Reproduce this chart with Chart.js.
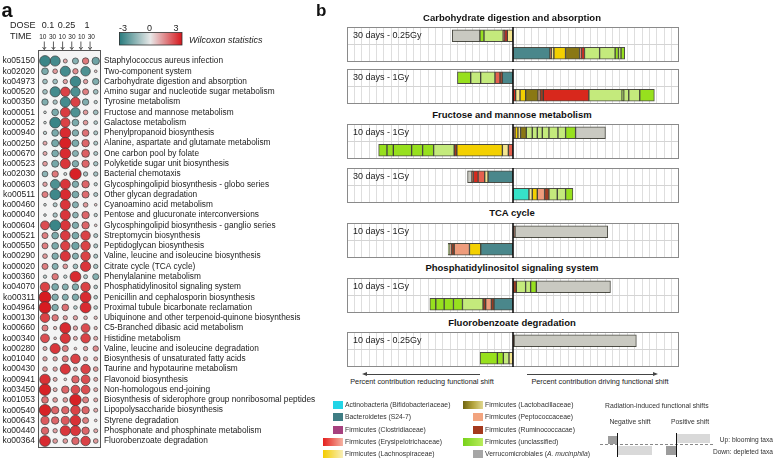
<!DOCTYPE html>
<html>
<head>
<meta charset="utf-8">
<script src="https://cdn.jsdelivr.net/npm/chart.js@4.4.1/dist/chart.umd.min.js"></script>
<style>
  body { margin: 0; background: #fff; font-family: "Liberation Sans", Arial, sans-serif; color: #222; }
  #fig { position: relative; width: 778px; height: 460px; overflow: hidden; }
  #fig canvas, #fig .txt, #fig .box { position: absolute; }
  .txt { white-space: nowrap; line-height: 1; }
</style>
</head>
<body>
<div id="fig">
  <canvas id="dots" width="340" height="460" style="left:0;top:0"></canvas>
</div>
<script>
document.addEventListener('DOMContentLoaded', function() {
    // ---------- panel a: KEGG pathways x dose/time ----------
    const koCodes = ['ko05150', 'ko02020', 'ko04973', 'ko00520', 'ko00350', 'ko00051', 'ko00052', 'ko00940',
        'ko00250', 'ko00670', 'ko00523', 'ko02030', 'ko00603', 'ko00511', 'ko00460', 'ko00040', 'ko00604',
        'ko00521', 'ko00550', 'ko00290', 'ko00020', 'ko00360', 'ko04070', 'ko00311', 'ko04964', 'ko00130',
        'ko00660', 'ko00340', 'ko00280', 'ko01040', 'ko00430', 'ko00941', 'ko03450', 'ko01053', 'ko00540',
        'ko00643', 'ko00440', 'ko00364'];
    const pathways = ['Staphylococcus aureus infection', 'Two-component system', 'Carbohydrate digestion and absorption',
        'Amino sugar and nucleotide sugar metabolism', 'Tyrosine metabolism', 'Fructose and mannose metabolism',
        'Galactose metabolism', 'Phenylpropanoid biosynthesis', 'Alanine, aspartate and glutamate metabolism',
        'One carbon pool by folate', 'Polyketide sugar unit biosynthesis', 'Bacterial chemotaxis',
        'Glycosphingolipid biosynthesis - globo series', 'Other glycan degradation', 'Cyanoamino acid metabolism',
        'Pentose and glucuronate interconversions', 'Glycosphingolipid biosynthesis - ganglio series',
        'Streptomycin biosynthesis', 'Peptidoglycan biosynthesis', 'Valine, leucine and isoleucine biosynthesis',
        'Citrate cycle (TCA cycle)', 'Phenylalanine metabolism', 'Phosphatidylinositol signaling system',
        'Penicillin and cephalosporin biosynthesis', 'Proximal tubule bicarbonate reclamation',
        'Ubiquinone and other terpenoid-quinone biosynthesis', 'C5-Branched dibasic acid metabolism',
        'Histidine metabolism', 'Valine, leucine and isoleucine degradation', 'Biosynthesis of unsaturated fatty acids',
        'Taurine and hypotaurine metabolism', 'Flavonoid biosynthesis', 'Non-homologous end-joining',
        'Biosynthesis of siderophore group nonribosomal peptides', 'Lipopolysaccharide biosynthesis',
        'Styrene degradation', 'Phosphonate and phosphinate metabolism', 'Fluorobenzoate degradation'];
    const doseLabels = ['0.1', '0.25', '1'];
    const timeLabels = ['10', '30', '10', '30', '10', '30'];
    const colorbarTicks = [-3, 0, 3];

    // Wilcoxon statistic, one array per dose/time column
    const wDose01Day10 = [-2.6, -1.4, -0.8, -0.8, -1.3, -0.2, -0.2, -0.4, 0.6, 0.6, 0.8, -1.1, 0.7, 1.2, -0.2, -0.2, 2.0, 1.2, 1.2,
        0.8, 1.2, -0.4, 2.2, 2.9, 2.9, 2.2, 1.2, 2.0, 0.6, 0.7, 0.8, 2.5, 2.8, 1.4, 2.8, 1.8, 1.6, 2.6];
    const wDose01Day30 = [-2.4, 0.8, -0.8, -2.4, -0.7, -1.4, -2.6, -1.4, -1.5, -1.4, -1.5, 1.3, -2.2, -2.5, -0.6, -0.7, -2.6, -1.4, -1.4,
        -1.3, -1.2, 1.3, -1.4, -1.3, -1.3, 1.3, 0.4, 0.2, 2.4, 0.7, 0.7, 0.6, 0.6, 0.8, 1.6, 1.6, 0.7, 0.8];
    const wDose025Day10 = [0.6, -2.4, 0.7, 2.2, -2.4, 2.3, 2.2, 2.6, 2.8, 2.6, 2.4, -0.3, 2.4, 2.6, 2.4, 2.4, 2.4, 2.3, 2.2,
        2.4, 0.8, -0.4, -1.2, -1.2, 1.4, 0.7, 2.6, 2.4, 1.2, 1.2, 2.4, 0.2, 1.6, 0.8, 1.6, 1.8, 2.4, 0.8];
    const wDose025Day30 = [-1.2, 1.0, -2.5, -2.2, 2.2, -2.2, -1.4, -1.3, -1.4, -1.2, -1.3, 2.8, -1.3, -1.4, -1.2, -1.1, -1.3, -1.4, -1.6,
        -1.2, -0.8, 2.6, -1.3, -1.3, -0.5, 0.7, 0.7, 0.6, 0.2, 2.2, 0.6, 1.6, 2.0, 2.8, 2.2, 2.5, 2.4, 1.6];
    const wDose1Day10 = [1.3, -2.2, 0.7, 1.2, -1.3, 0.8, 0.8, 1.4, 1.6, 1.7, 1.6, -0.7, 1.6, 1.5, 0.8, 1.6, 1.6, 2.2, 2.2,
        2.2, 2.4, -0.6, 2.2, 2.6, 2.6, 0.5, 2.0, 2.2, 0.7, 0.7, 2.2, 2.0, 2.0, 1.2, 1.6, 1.2, 1.6, 2.2];
    const wDose1Day30 = [-1.6, 0.2, -1.3, -0.8, -0.4, -0.8, -0.5, -0.6, -0.6, -0.6, -0.7, -0.7, -0.4, -0.6, 0.2, -0.4, 0.2, -0.6, -0.6,
        -0.6, -0.7, -1.2, -0.5, -0.5, -0.5, 0.4, 0.4, 0.6, 1.0, 0.6, 0.8, 0.6, 0.6, 0.6, 0.6, 0.2, 0.6, 0.8];
    const wilcoxonColumns = [wDose01Day10, wDose01Day30, wDose025Day10, wDose025Day30, wDose1Day10, wDose1Day30];

    // ---------- panel b: taxa contributions to functional shifts ----------
    const shiftTitles = ['Carbohydrate digestion and absorption', 'Fructose and mannose metabolism', 'TCA cycle',
        'Phosphatidylinositol signaling system', 'Fluorobenzoate degradation'];
    const frameLabels = ['30 days - 0.25Gy', '30 days - 1Gy', '10 days - 1Gy', '30 days - 1Gy', '10 days - 1Gy',
        '10 days - 1Gy', '10 days - 0.25Gy'];
    // segments listed from the zero line outward: [taxon, percent contribution]
    const carb025Up = [['lachPale', -0.77], ['ery', -0.36], ['rumino', -0.2], ['greenL', -2.6], ['greenB', -0.55], ['verruco', -3.75]];
    const carb025Down = [['bactero', 5.0], ['rumino', 0.18], ['lachPale', 0.36], ['lach', 1.58], ['lacto', 1.9], ['erySalmon', 0.27],
        ['ery', 0.4], ['greenL', 2.05], ['greenL', 2.1], ['greenB', 0.45], ['greenL', 0.35], ['greenB', 0.5]];
    const carb1Up = [['bactero', -1.44], ['rumino', -0.32], ['erySalmon', -0.68], ['greenL', -1.94], ['greenL', -1.35], ['greenB', -1.8]];
    const carb1Down = [['ery', 0.36], ['lachPale', 0.59], ['lach', 0.77], ['lacto', 1.67], ['pepto', 0.27], ['rumino', 0.45],
        ['ery', 6.17], ['greenL', 4.5], ['greenB', 0.23], ['greenL', 0.68], ['greenL', 1.49], ['greenB', 1.98]];
    const fruc10Up = [['rumino', 0.27], ['lach', 0.4], ['lachPale', 0.36], ['lacto', 0.77], ['greenL', 0.81], ['greenL', 0.68],
        ['greenL', 0.68], ['greenL', 0.9], ['greenL', 1.22], ['greenL', 1.04], ['greenB', 1.35], ['verruco', 4.05]];
    const fruc10Down = [['erySalmon', -0.63], ['lachPale', -0.81], ['lach', -6.17], ['rumino', -0.36], ['greenL', -2.79],
        ['greenB', -1.49], ['greenB', -1.49], ['greenB', -2.48], ['greenB', -0.86], ['greenB', -1.13]];
    const fruc30Up = [['bactero', -3.38], ['lachPale', -0.45], ['erySalmon', -0.9], ['ery', -0.63], ['rumino', -0.2], ['verruco', -0.6]];
    const fruc30Down = [['actino', 2.16], ['lachPale', 0.45], ['lach', 0.68], ['pepto', 0.99], ['rumino', 0.59], ['greenL', 1.13],
        ['greenL', 1.13], ['greenB', 0.99]];
    const tcaUp = [['rumino', 0.27], ['verruco', 12.57]];
    const tcaDown = [['bactero', -4.37], ['lach', -1.53], ['pepto', -2.07], ['rumino', -0.36], ['pepto', -0.23], ['greenL', -0.23]];
    const phosUp = [['rumino', 0.45], ['greenL', 1.26], ['greenL', 0.68], ['greenB', 0.77], ['verruco', 10.05]];
    const phosDown = [['bactero', -2.57], ['rumino', -0.36], ['pepto', -0.77], ['rumino', -0.36], ['greenL', -2.79], ['greenB', -1.22],
        ['greenB', -1.26], ['greenB', -1.13], ['greenB', -0.81]];
    const fluoUp = [['rumino', 0.14], ['verruco', 16.58]];
    const fluoDown = [['lachPale', -0.54], ['greenL', -0.77], ['greenB', -0.81], ['greenB', -2.34]];
    const frameRows = [[carb025Up, carb025Down], [carb1Up, carb1Down], [fruc10Up, fruc10Down], [fruc30Up, fruc30Down],
        [tcaUp, tcaDown], [phosUp, phosDown], [fluoUp, fluoDown]];

    const legendTaxa = ['Actinobacteria (Bifidobacteriaceae)', 'Bacteroidetes (S24-7)', 'Firmicutes (Clostridiaceae)',
        'Firmicutes (Erysipelotrichaceae)', 'Firmicutes (Lachnospiraceae)', 'Firmicutes (Lactobacillaceae)',
        'Firmicutes (Peptococcaceae)', 'Firmicutes (Ruminococcacae)', 'Firmicutes (unclassified)',
        'Verrucomicrobiales (<i>A. mucinphila</i>)'];

    const taxonColors = {
        actino: '#36e2c8', bactero: '#4a878b', clostri: '#a3417d', ery: '#d8281c', erySalmon: '#e4604e',
        lach: '#f3d000', lachPale: '#f4e690', lacto: '#8a7814', pepto: '#ee9c7c', rumino: '#9e3a20',
        greenB: '#97e01e', greenL: '#c4ea7c', verruco: '#c9c9c1'
    };
    const legendSwatches = ['#22d4e6', '#3f7d84', '#a6417f', 'linear-gradient(to right,#e4201e,#f5b3a3)',
        'linear-gradient(to right,#f4cc00,#f8efb8)', 'linear-gradient(to right,#6f6410,#b3a43c,#e0d890)',
        '#f2a47f', '#a4391d', 'linear-gradient(to right,#78d21a,#b9ec5c)', '#a6a6a6'];

    const FONT = '"Liberation Sans", Arial, sans-serif';
    Chart.defaults.font.family = FONT;
    Chart.defaults.color = '#222';
    const fig = document.getElementById('fig');

    function addText(html, x, y, size, opts) {
        opts = opts || {};
        const d = document.createElement('div');
        d.className = 'txt';
        d.innerHTML = html;
        d.style.left = x + 'px';
        d.style.top = y + 'px';
        d.style.fontSize = size + 'px';
        if (opts.bold) d.style.fontWeight = 'bold';
        if (opts.color) d.style.color = opts.color;
        const tx = opts.align === 'center' ? '-50%' : opts.align === 'right' ? '-100%' : '0';
        d.style.transform = 'translate(' + tx + ',-50%)';
        fig.appendChild(d);
    }
    function addBox(x, y, w, h, css) {
        const d = document.createElement('div');
        d.className = 'box';
        d.style.cssText = 'left:' + x + 'px;top:' + y + 'px;width:' + w + 'px;height:' + h + 'px;' + (css || '');
        fig.appendChild(d);
    }

    // teal -> light grey -> red
    function wilcoxColor(v) {
        const k = Math.pow(Math.min(1, Math.abs(v) / 3), 0.75);
        const mid = [232, 232, 232];
        const end = v < 0 ? [38, 122, 124] : [214, 22, 28];
        return 'rgb(' + mid.map((m, i) => Math.round(m + (end[i] - m) * k)).join(',') + ')';
    }

    const dotDatasets = wilcoxonColumns.map((col, c) => ({
        data: col.map((v, i) => ({ x: c + 1, y: koCodes[i], v: v })),
        clip: false,
        backgroundColor: ctx => ctx.raw ? wilcoxColor(ctx.raw.v) : '#ddd',
        borderColor: '#3c3c3c',
        borderWidth: 0.7,
        radius: ctx => ctx.raw ? 1 + 1.7 * Math.abs(ctx.raw.v) : 2
    }));

    const dotFrame = {
        id: 'dotFrame',
        beforeDatasetsDraw(chart) {
            const { ctx, chartArea: a } = chart;
            ctx.save();
            ctx.fillStyle = '#f4f4f4';
            ctx.fillRect(a.left, a.top - 11, a.right - a.left, a.bottom - a.top + 18);
            ctx.strokeStyle = '#555';
            ctx.lineWidth = 1;
            ctx.strokeRect(a.left + 0.5, a.top - 10.5, a.right - a.left - 1, a.bottom - a.top + 17);
            ctx.restore();
        },
        afterDraw(chart) {
            const ctx = chart.ctx;
            ctx.save();
            ctx.fillStyle = '#222';
            ctx.textBaseline = 'middle';
            ctx.font = '9px ' + FONT;
            ctx.textAlign = 'left';
            ctx.fillText('DOSE', 10, 26);
            ctx.fillText('TIME', 10, 37);
            ctx.textAlign = 'center';
            [48, 66.5, 87].forEach((x, i) => ctx.fillText(doseLabels[i], x, 26));
            ctx.font = '6.5px ' + FONT;
            timeLabels.forEach((t, i) => ctx.fillText(t, 42.8 + 9.7 * i, 37.5));
            // arrows into the box
            ctx.strokeStyle = '#333';
            ctx.lineWidth = 0.8;
            timeLabels.forEach((t, i) => {
                const x = 44.3 + 9.15 * i;
                ctx.beginPath();
                ctx.moveTo(x, 41.5); ctx.lineTo(x, 49.5);
                ctx.moveTo(x - 1.8, 47); ctx.lineTo(x, 49.5); ctx.lineTo(x + 1.8, 47);
                ctx.stroke();
            });
            // colour bar
            const g = ctx.createLinearGradient(119, 0, 182, 0);
            g.addColorStop(0, wilcoxColor(-3));
            g.addColorStop(0.5, wilcoxColor(0));
            g.addColorStop(1, wilcoxColor(3));
            ctx.fillStyle = g;
            ctx.fillRect(119, 32.5, 63, 12.5);
            ctx.strokeStyle = '#333';
            ctx.strokeRect(119.5, 32.5, 62.5, 12.5);
            ctx.fillStyle = '#222';
            ctx.font = '9px ' + FONT;
            colorbarTicks.forEach(t => ctx.fillText(String(t), 123 + (t + 3) / 6 * 53, 28.5));
            ctx.textAlign = 'left';
            ctx.font = 'italic 9px ' + FONT;
            ctx.fillText('Wilcoxon statistics', 189, 40);
            ctx.restore();
        }
    };

    new Chart(document.getElementById('dots').getContext('2d'), {
        type: 'bubble',
        data: { datasets: dotDatasets },
        options: {
            responsive: false,
            animation: false,
            events: [],
            layout: { padding: { top: 61, bottom: 19, left: 0, right: 0 } },
            plugins: { legend: { display: false }, tooltip: { enabled: false } },
            scales: {
                x: { type: 'linear', min: 0.31, max: 6.52, display: false },
                y: {
                    type: 'category', labels: koCodes, min: 0, max: koCodes.length - 1, offset: false, position: 'left',
                    grid: { display: false, drawTicks: false }, border: { display: false },
                    ticks: { autoSkip: false, padding: 3, color: '#222', font: { size: 8.5 } },
                    afterFit: s => { s.width = 38; }
                },
                y2: {
                    type: 'category', labels: pathways, min: 0, max: pathways.length - 1, offset: false, position: 'right',
                    grid: { display: false, drawTicks: false }, border: { display: false },
                    ticks: { autoSkip: false, padding: 3, color: '#222', font: { size: 8.3 } },
                    afterFit: s => { s.width = 239; }
                }
            }
        },
        plugins: [dotFrame]
    });

    // ---------- panel b frames ----------
    const frameTops = [27, 69, 124, 168, 223, 278, 332];
    const titleYs = [18, 115, 213, 268, 322.5];

    const framePlugin = {
        id: 'framePlugin',
        afterDatasetsDraw(chart, args, opts) {
            const { ctx, chartArea: a } = chart;
            const x0 = chart.scales.x.getPixelForValue(0);
            ctx.save();
            ctx.strokeStyle = '#8a8a8a';
            ctx.lineWidth = 1;
            ctx.strokeRect(a.left + 0.5, a.top + 0.5, a.right - a.left - 1, a.bottom - a.top - 1);
            ctx.strokeStyle = '#111';
            ctx.lineWidth = 1.6;
            ctx.beginPath();
            ctx.moveTo(x0, a.top); ctx.lineTo(x0, a.bottom);
            ctx.stroke();
            ctx.fillStyle = '#222';
            ctx.font = '9px ' + FONT;
            ctx.textBaseline = 'middle';
            ctx.fillText(opts.label, a.left + 6, chart.scales.y.getPixelForValue(0));
            ctx.restore();
        }
    };

    frameRows.forEach(([up, down], f) => {
        const cv = document.createElement('canvas');
        cv.width = 332; cv.height = 35;
        cv.style.left = '347px';
        cv.style.top = frameTops[f] + 'px';
        fig.appendChild(cv);
        const datasets = [];
        up.forEach(([t, v]) => datasets.push({ data: [v, null], backgroundColor: taxonColors[t] }));
        down.forEach(([t, v]) => datasets.push({ data: [null, v], backgroundColor: taxonColors[t] }));
        new Chart(cv.getContext('2d'), {
            type: 'bar',
            data: { labels: ['up', 'down'], datasets },
            options: {
                indexAxis: 'y',
                responsive: false,
                animation: false,
                events: [],
                layout: { padding: 0 },
                datasets: { bar: { barThickness: 12, borderWidth: 1, borderColor: 'rgba(45,45,35,0.85)', borderSkipped: false } },
                plugins: { legend: { display: false }, tooltip: { enabled: false }, framePlugin: { label: frameLabels[f] } },
                scales: {
                    x: {
                        stacked: true, min: -22.5, max: 22.5,
                        ticks: { display: false, stepSize: 1 },
                        grid: { color: '#dedede', drawTicks: false }, border: { display: false }
                    },
                    y: {
                        stacked: true,
                        ticks: { display: false },
                        grid: { color: '#d4d4d4', drawTicks: false }, border: { display: false }
                    }
                }
            },
            plugins: [framePlugin]
        });
    });

    // ---------- text, arrows, legend ----------
    addText('a', 1.5, 9.5, 20, { bold: true, color: '#111' });
    addText('b', 316, 9.5, 17, { bold: true, color: '#111' });
    shiftTitles.forEach((t, i) => addText(t, 512, titleYs[i], 9.5, { bold: true, align: 'center', color: '#111' }));

    addBox(366, 373.5, 114, 0, 'border-top:1px solid #444');
    addBox(362, 371.5, 0, 0, 'border-top:2px solid transparent;border-bottom:2px solid transparent;border-right:5px solid #444');
    addBox(527, 373.5, 126, 0, 'border-top:1px solid #444');
    addBox(653, 371.5, 0, 0, 'border-top:2px solid transparent;border-bottom:2px solid transparent;border-left:5px solid #444');
    addText('Percent contribution reducing functional shift', 422, 382, 7.3, { align: 'center' });
    addText('Percent contribution driving functional shift', 600, 382, 7.3, { align: 'center' });

    const legendRowsY = [405, 417.3, 430, 442.3, 454.3];
    legendTaxa.forEach((name, i) => {
        const col = i < 5 ? 0 : 1;
        const y = legendRowsY[i % 5];
        const wide = legendSwatches[i].indexOf('gradient') >= 0;
        const right = col === 0 ? 343 : 483;
        const w = wide ? 20 : 10;
        addBox(right - w, y - 4, w, 8, 'background:' + legendSwatches[i]);
        addText(name, right + 2, y, 6.8, { color: '#333' });
    });

    // schematic of shift directions
    addText('Radiation-induced functional shifts', 605, 405.5, 6.8, { color: '#333' });
    addText('Negative shift', 630, 422, 6.8, { align: 'center', color: '#333' });
    addText('Positive shift', 690, 422, 6.8, { align: 'center', color: '#333' });
    addBox(600, 444, 113, 0, 'border-top:1px dashed #888');
    addBox(608, 436, 10, 8, 'background:#9c9c9c');
    addBox(618, 446, 34, 9, 'background:#d9d9d9');
    addBox(617, 433, 0, 24, 'border-left:1.2px solid #111');
    addBox(677, 434, 33, 9, 'background:#d9d9d9');
    addBox(666, 446, 10, 9, 'background:#9c9c9c');
    addBox(676, 433, 0, 24, 'border-left:1.2px solid #111');
    addText('Up: blooming taxa', 773, 439.5, 6.6, { align: 'right', color: '#333' });
    addText('Down: depleted taxa', 773, 452, 6.6, { align: 'right', color: '#333' });
});
</script>
</body>
</html>
